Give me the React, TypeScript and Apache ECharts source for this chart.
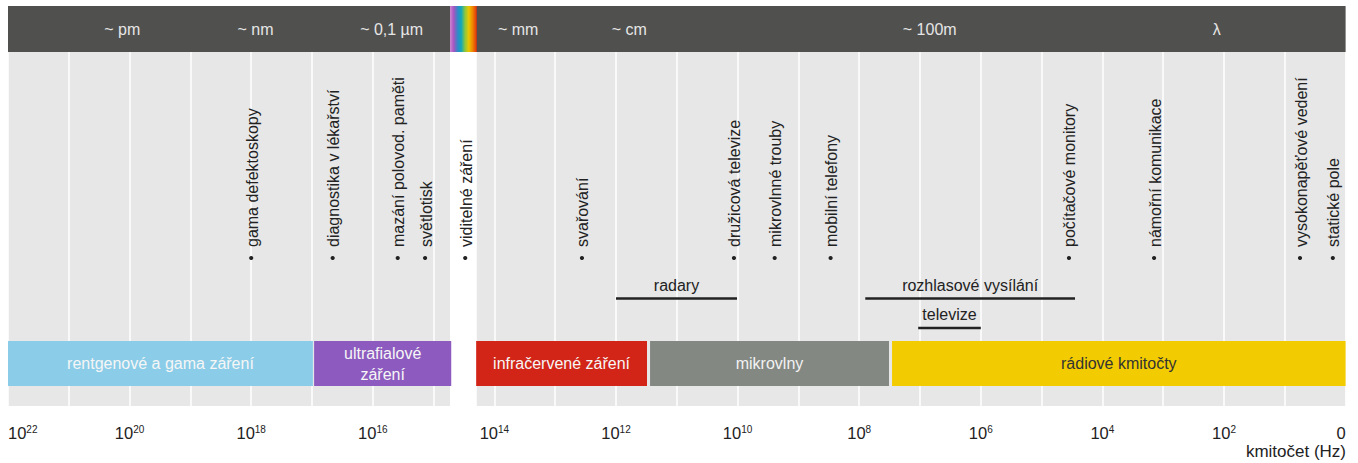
import React, { useEffect, useRef } from 'react';
import * as echarts from 'echarts';

const FONT = '"Liberation Sans", Arial, Helvetica, sans-serif';

// x values: log10 of frequency (Hz); axis runs from 10^22 (left) to 0 (right)
const X_MIN = 0;
const X_MAX = 22;

const wavelengthLabels = ['~ pm', '~ nm', '~ 0,1 µm', '~ mm', '~ cm', '~ 100m', 'λ'];
const wavelengthPos = [20.12, 17.93, 15.69, 13.61, 11.78, 6.84, 2.12];

const visibleFrom = 14.73;
const visibleTo = 14.29;

const bandNames = ['rentgenové a gama záření', 'ultrafialové\nzáření', 'infračervené záření', 'mikrovlny', 'rádiové kmitočty'];
const bandFrom = [22, 16.965, 14.3, 11.44, 7.46];
const bandTo = [16.985, 14.71, 11.49, 7.51, 0];

const appNames = [
  'gama defektoskopy',
  'diagnostika v lékařství',
  'mazání polovod. paměti',
  'světlotisk',
  'viditelné záření',
  'svařování',
  'družicová televize',
  'mikrovlnné trouby',
  'mobilní telefony',
  'počítačové monitory',
  'námořní komunikace',
  'vysokonapěťové vedení',
  'statické pole',
];
const appPos = [18.0, 16.66, 15.59, 15.14, 14.48, 12.56, 10.06, 9.39, 8.47, 4.55, 3.15, 0.75, 0.21];

const rangeNames = ['radary', 'rozhlasové vysílání', 'televize'];
const rangeFrom = [12.0, 7.9, 7.03];
const rangeTo = [10.01, 4.45, 6.0];
const rangeRow = [0, 0, 1];

// styles
const HEADER_COLOR = '#50504e';
const GRID_BG = '#e7e7e7';
const bandColors = ['#8bcde8', '#8d5bbf', '#d22417', '#838882', '#f2cc00'];
const bandTextColors = ['#f6f6f6', '#f6f6f6', '#f6f6f6', '#f2f2f2', '#333333'];
const rainbowStops = [
  { offset: 0, color: '#cf85d2' },
  { offset: 0.14, color: '#a556c0' },
  { offset: 0.3, color: '#2a8cc8' },
  { offset: 0.42, color: '#12a8b8' },
  { offset: 0.56, color: '#8cc63e' },
  { offset: 0.7, color: '#e8c800' },
  { offset: 0.83, color: '#f08c00' },
  { offset: 1, color: '#e0300c' },
];

// layout (y-axis units = px below grid top)
const HEADER_BOTTOM = 46;
const HEADER_TEXT_Y = 23;
const BAND_TOP = 335;
const BAND_BOTTOM = 380;
const BULLET_Y = 252;
const APP_TEXT_Y = 241;
const RANGE_LINE_Y = [292.5, 322];
const RANGE_TEXT_Y = [279, 308];

export default function App() {
  const ref = useRef<HTMLDivElement>(null);

  useEffect(() => {
    if (!ref.current) return;
    const chart = echarts.init(ref.current, null, { renderer: 'svg' });

    const rectBetween = (api: any, x1: number, x2: number, y1: number, y2: number) => {
      const a = api.coord([x1, y1]);
      const b = api.coord([x2, y2]);
      return {
        x: Math.min(a[0], b[0]),
        y: Math.min(a[1], b[1]),
        width: Math.abs(b[0] - a[0]),
        height: Math.abs(b[1] - a[1]),
      };
    };

    const option: any = {
      animation: false,
      backgroundColor: '#ffffff',
      grid: {
        left: 8,
        right: 12.4,
        top: 6,
        bottom: 57,
        show: true,
        backgroundColor: GRID_BG,
        borderWidth: 0,
        containLabel: false,
        outerBoundsMode: 'none',
      },
      xAxis: {
        type: 'value',
        min: X_MIN,
        max: X_MAX,
        interval: 1,
        inverse: true,
        axisLine: { show: false },
        axisTick: { show: false },
        splitLine: { show: true, lineStyle: { color: '#ffffff', width: 1.5 } },
        axisLabel: {
          show: true,
          showMinLabel: true,
          showMaxLabel: true,
          margin: 18,
          alignMinLabel: 'right',
          alignMaxLabel: 'left',
          formatter: (v: number) => {
            if (v === 0) return '{b|0}';
            if (v % 2 !== 0) return '';
            return `{b|10}{s|${v}}`;
          },
          rich: {
            b: { fontSize: 16.5, fontFamily: FONT, color: '#222222' },
            s: { fontSize: 10, fontFamily: FONT, color: '#222222', padding: [0, 0, 7, 0] },
          },
        },
      },
      yAxis: {
        type: 'value',
        min: 0,
        max: 400,
        inverse: true,
        show: false,
        splitLine: { show: false },
      },
      graphic: [
        {
          type: 'text',
          right: 12,
          top: 443,
          style: { text: 'kmitočet (Hz)', font: `17px ${FONT}`, fill: '#222222' },
        },
      ],
      series: [
        {
          type: 'custom',
          name: 'header',
          silent: true,
          data: [[X_MAX, X_MIN]],
          renderItem: (params: any, api: any) => ({
            type: 'rect',
            shape: rectBetween(api, api.value(0), api.value(1), 0, HEADER_BOTTOM),
            style: { fill: HEADER_COLOR },
          }),
          z: 1,
        },
        {
          type: 'custom',
          name: 'visible',
          silent: true,
          data: [[visibleFrom, visibleTo]],
          renderItem: (params: any, api: any) => ({
            type: 'group',
            children: [
              {
                type: 'rect',
                shape: rectBetween(api, api.value(0), api.value(1), HEADER_BOTTOM, 400),
                style: { fill: '#ffffff' },
              },
              {
                type: 'rect',
                shape: rectBetween(api, api.value(0), api.value(1), 0, HEADER_BOTTOM),
                style: {
                  fill: { type: 'linear', x: 0, y: 0, x2: 1, y2: 0, colorStops: rainbowStops },
                },
              },
            ],
          }),
          z: 2,
        },
        {
          type: 'custom',
          name: 'wavelength',
          silent: true,
          data: wavelengthPos.map((p, i) => [p, i]),
          renderItem: (params: any, api: any) => {
            const c = api.coord([api.value(0), HEADER_TEXT_Y]);
            return {
              type: 'text',
              x: c[0],
              y: c[1],
              style: {
                text: wavelengthLabels[params.dataIndex],
                font: `16px ${FONT}`,
                fill: '#e6e6e6',
                align: 'center',
                verticalAlign: 'middle',
              },
            };
          },
          z: 3,
        },
        {
          type: 'custom',
          name: 'bands',
          silent: true,
          data: bandFrom.map((f, i) => [f, bandTo[i]]),
          renderItem: (params: any, api: any) => {
            const i = params.dataIndex;
            const r = rectBetween(api, api.value(0), api.value(1), BAND_TOP, BAND_BOTTOM);
            return {
              type: 'group',
              children: [
                { type: 'rect', shape: r, style: { fill: bandColors[i] } },
                {
                  type: 'text',
                  x: r.x + r.width / 2,
                  y: r.y + r.height / 2,
                  style: {
                    text: bandNames[i],
                    font: `16px ${FONT}`,
                    lineHeight: 21,
                    fill: bandTextColors[i],
                    align: 'center',
                    verticalAlign: 'middle',
                  },
                },
              ],
            };
          },
          z: 3,
        },
        {
          type: 'custom',
          name: 'ranges',
          silent: true,
          data: rangeFrom.map((f, i) => [f, rangeTo[i]]),
          renderItem: (params: any, api: any) => {
            const i = params.dataIndex;
            const row = rangeRow[i];
            const a = api.coord([api.value(0), RANGE_LINE_Y[row]]);
            const b = api.coord([api.value(1), RANGE_LINE_Y[row]]);
            const t = api.coord([(api.value(0) + api.value(1)) / 2, RANGE_TEXT_Y[row]]);
            return {
              type: 'group',
              children: [
                {
                  type: 'line',
                  shape: { x1: a[0], y1: a[1], x2: b[0], y2: b[1] },
                  style: { stroke: '#222222', lineWidth: 2.6 },
                },
                {
                  type: 'text',
                  x: t[0],
                  y: t[1],
                  style: {
                    text: rangeNames[i],
                    font: `16px ${FONT}`,
                    fill: '#222222',
                    align: 'center',
                    verticalAlign: 'middle',
                  },
                },
              ],
            };
          },
          z: 3,
        },
        {
          type: 'custom',
          name: 'applications',
          silent: true,
          data: appPos.map((p, i) => [p, i]),
          renderItem: (params: any, api: any) => {
            const i = params.dataIndex;
            const b = api.coord([api.value(0), BULLET_Y]);
            const t = api.coord([api.value(0), APP_TEXT_Y]);
            return {
              type: 'group',
              children: [
                { type: 'circle', shape: { cx: b[0], cy: b[1], r: 2.1 }, style: { fill: '#222222' } },
                {
                  type: 'text',
                  x: t[0] + 1,
                  y: t[1],
                  rotation: Math.PI / 2,
                  style: {
                    text: appNames[i],
                    font: `16px ${FONT}`,
                    fill: '#222222',
                    align: 'left',
                    verticalAlign: 'middle',
                  },
                },
              ],
            };
          },
          z: 3,
        },
      ],
    };

    chart.setOption(option);
    return () => chart.dispose();
  }, []);

  return (
    <div
      ref={ref}
      style={{ position: 'fixed', left: 0, top: 0, width: 1358, height: 463 }}
    />
  );
}
